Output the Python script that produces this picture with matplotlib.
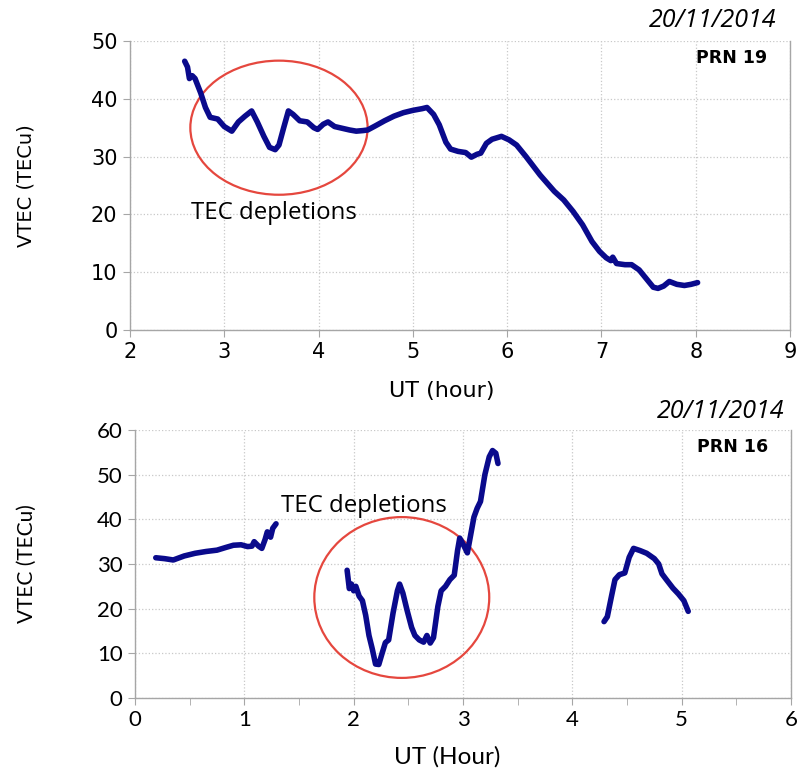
import numpy as np
import matplotlib
matplotlib.use("Agg")
import matplotlib.pyplot as plt
from matplotlib.patches import Ellipse
from matplotlib.ticker import MultipleLocator

# ─── data: PRN 19 ───────────────────────────────────────────────
ut19 = [2.58, 2.61, 2.63, 2.66, 2.69, 2.75, 2.80, 2.85, 2.93, 3.00, 3.08, 3.15,
        3.22, 3.29, 3.35, 3.42, 3.48, 3.54, 3.58, 3.63, 3.68, 3.73, 3.80, 3.88,
        3.95, 3.99, 4.05, 4.10, 4.17, 4.25, 4.33, 4.40, 4.47, 4.52, 4.60, 4.70,
        4.80, 4.90, 5.00, 5.10, 5.15, 5.22, 5.28, 5.35, 5.40, 5.48, 5.56, 5.62,
        5.68, 5.72, 5.78, 5.84, 5.94, 6.02, 6.10, 6.20, 6.35, 6.50, 6.60, 6.70,
        6.80, 6.90, 6.98, 7.05, 7.10, 7.12, 7.16, 7.25, 7.32, 7.40, 7.48, 7.55,
        7.60, 7.66, 7.72, 7.80, 7.88, 7.95, 8.02]
tec19 = [46.5, 45.5, 43.5, 44.0, 43.5, 41.0, 38.5, 36.8, 36.5, 35.2, 34.4, 36.0,
         37.0, 37.9, 36.0, 33.5, 31.6, 31.2, 32.0, 35.0, 37.9, 37.3, 36.2, 36.0,
         35.0, 34.7, 35.6, 36.0, 35.2, 34.9, 34.6, 34.4, 34.5, 34.6, 35.3, 36.2,
         37.0, 37.6, 38.0, 38.3, 38.5, 37.3, 35.5, 32.5, 31.3, 30.9, 30.7, 29.9,
         30.4, 30.6, 32.3, 33.0, 33.5, 32.9, 32.0, 30.0, 26.8, 24.0, 22.5, 20.5,
         18.2, 15.3, 13.6, 12.5, 12.0, 12.6, 11.5, 11.3, 11.3, 10.4, 8.8, 7.4,
         7.2, 7.6, 8.4, 7.9, 7.7, 7.9, 8.2]

# ─── data: PRN 16 (three arcs) ──────────────────────────────────
ut16_a = [0.19, 0.27, 0.35, 0.45, 0.55, 0.65, 0.75, 0.83, 0.90, 0.97, 1.03,
          1.07, 1.09, 1.13, 1.16, 1.19, 1.21, 1.24, 1.26, 1.29]
tec16_a = [31.4, 31.2, 30.9, 31.8, 32.4, 32.8, 33.1, 33.7, 34.2, 34.3, 33.9,
           34.0, 35.0, 34.0, 33.5, 35.5, 37.2, 36.0, 38.0, 39.0]

ut16_b = [1.94, 1.96, 1.98, 2.00, 2.02, 2.05, 2.08, 2.11, 2.14, 2.17, 2.20,
          2.23, 2.26, 2.29, 2.32, 2.36, 2.40, 2.42, 2.45, 2.49, 2.53, 2.56,
          2.60, 2.64, 2.67, 2.70, 2.73, 2.77, 2.80, 2.84, 2.88, 2.92, 2.95,
          2.97, 3.01, 3.04, 3.07, 3.10, 3.13, 3.16, 3.20, 3.24, 3.27, 3.30, 3.32]
tec16_b = [28.6, 24.5, 25.5, 24.0, 25.0, 22.8, 21.8, 18.5, 14.0, 11.0, 7.6,
           7.5, 10.0, 12.4, 13.0, 19.0, 24.0, 25.5, 23.5, 19.5, 15.8, 14.0,
           13.0, 12.5, 14.0, 12.3, 13.5, 20.5, 24.0, 25.0, 26.5, 27.5, 33.0,
           35.8, 34.0, 32.5, 36.5, 40.5, 42.5, 44.0, 50.0, 54.0, 55.4, 54.8, 52.5]

ut16_c = [4.29, 4.32, 4.36, 4.39, 4.43, 4.48, 4.52, 4.56, 4.62, 4.68, 4.75,
          4.79, 4.82, 4.86, 4.92, 4.97, 5.02, 5.06]
tec16_c = [17.1, 18.2, 23.0, 26.5, 27.6, 28.0, 31.5, 33.5, 33.0, 32.4, 31.2,
           30.0, 27.8, 26.5, 24.6, 23.3, 21.8, 19.4]

LINE = "#0A0A8C"
RED = "#E5473E"
AXC = "#A6A6A6"


def style_axes(ax, fam, fs):
    ax.grid(True, color="#C8C8C8", linestyle=":", linewidth=0.9)
    ax.set_axisbelow(True)
    ax.spines["top"].set_visible(False)
    for s in ["left", "bottom", "right"]:
        ax.spines[s].set_color(AXC)
        ax.spines[s].set_linewidth(1.0)
    ax.tick_params(which="both", direction="out", length=5, color=AXC,
                   labelsize=fs, pad=4)
    for lab in ax.get_xticklabels() + ax.get_yticklabels():
        lab.set_family(fam)


fig = plt.figure(figsize=(8.01, 7.71), dpi=100)

# ─── top panel ──────────────────────────────────────────────────
ax1 = fig.add_axes([130 / 801, 1 - 330 / 771, 660 / 801, 289 / 771])
ax1.plot(ut19, tec19, color=LINE, linewidth=4, solid_capstyle="round",
         solid_joinstyle="round")
ax1.set_xlim(2, 9)
ax1.set_ylim(0, 50)
ax1.xaxis.set_major_locator(MultipleLocator(1))
ax1.yaxis.set_major_locator(MultipleLocator(10))
style_axes(ax1, "DejaVu Sans", 15)
ax1.add_patch(Ellipse((3.58, 35.0), 1.88, 23.2, fill=False, edgecolor=RED,
                      linewidth=1.6))
ax1.text(3.53, 20.3, "TEC depletions", ha="center", va="center", fontsize=17.3,
         family="Open Sans")
ax1.text(0.965, 0.94, "PRN 19", transform=ax1.transAxes, ha="right",
         va="center", fontsize=12.5, fontweight="bold", family="DejaVu Sans")
ax1.text(0.98, 1.07, "20/11/2014", transform=ax1.transAxes, ha="right",
         va="center", fontsize=18, style="italic", family="Open Sans")
ax1.set_xlabel("UT (hour)", fontsize=16, family="DejaVu Sans")
ax1.xaxis.set_label_coords(0.473, -0.175)
ax1.set_ylabel("VTEC (TECu)", fontsize=14, family="DejaVu Sans")
ax1.yaxis.set_label_coords(-0.143, 0.5)

# ─── bottom panel ───────────────────────────────────────────────
ax2 = fig.add_axes([135 / 801, 1 - 698 / 771, 656 / 801, 268 / 771])
for xs, ys in [(ut16_a, tec16_a), (ut16_b, tec16_b), (ut16_c, tec16_c)]:
    ax2.plot(xs, ys, color=LINE, linewidth=4, solid_capstyle="round",
             solid_joinstyle="round")
ax2.set_xlim(0, 6)
ax2.set_ylim(0, 60)
ax2.xaxis.set_major_locator(MultipleLocator(1))
ax2.xaxis.set_minor_locator(MultipleLocator(0.5))
ax2.yaxis.set_major_locator(MultipleLocator(10))
style_axes(ax2, "Lato", 16)
ax2.add_patch(Ellipse((2.44, 22.5), 1.6, 36.0, fill=False, edgecolor=RED,
                      linewidth=1.6))
ax2.text(2.09, 43.0, "TEC depletions", ha="center", va="center", fontsize=17.3,
         family="Open Sans")
ax2.text(0.965, 0.935, "PRN 16", transform=ax2.transAxes, ha="right",
         va="center", fontsize=12.5, fontweight="bold", family="DejaVu Sans")
ax2.text(0.99, 1.07, "20/11/2014", transform=ax2.transAxes, ha="right",
         va="center", fontsize=18, style="italic", family="Open Sans")
ax2.set_xlabel("UT (Hour)", fontsize=17.5, family="Lato")
ax2.xaxis.set_label_coords(0.476, -0.18)
ax2.set_ylabel("VTEC (TECu)", fontsize=15, family="Lato")
ax2.yaxis.set_label_coords(-0.15, 0.5)

fig.savefig("out.png", dpi=100)
plt.close(fig)
